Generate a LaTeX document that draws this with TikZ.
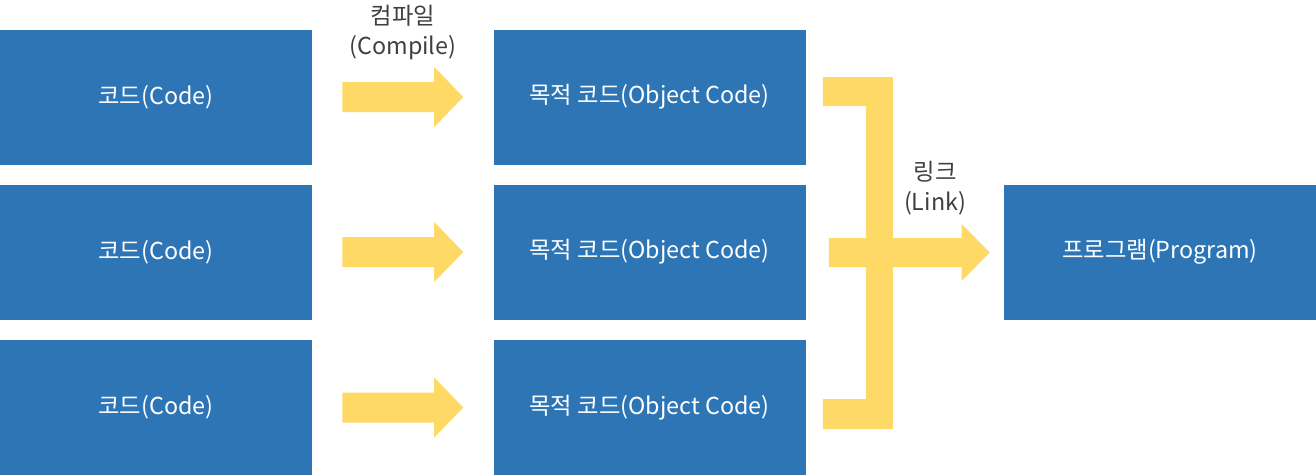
\documentclass[tikz,border=0pt]{standalone}
\usepackage{fontspec}
\setmainfont{Noto Sans CJK KR}
\usetikzlibrary{calc}
\definecolor{boxblue}{HTML}{2E75B6}
\definecolor{arrowyellow}{HTML}{FFD966}
\definecolor{labelgray}{HTML}{404040}
\tikzset{
    block/.style={fill=boxblue, minimum width=234pt, minimum height=101.25pt, inner sep=0pt, text=white, font=\fontsize{17.5}{21}\selectfont},
    fat/.style={fill=arrowyellow},
    tag/.style={align=center, text=labelgray, font=\fontsize{17.5}{22.5}\selectfont}
}

\begin{document}
\begin{tikzpicture}[x=0.75pt, y=-0.75pt]
\useasboundingbox (0,0) rectangle (1316,475);
% source and object code blocks
\node[block] (code1) at (156,97) {코드(Code)};
\node[block] (code2) at (156,252) {코드(Code)};
\node[block] (code3) at (156,407.5) {코드(Code)};
\node[block] (obj1) at (649.5,97) {목적 코드(Object Code)};
\node[block] (obj2) at (649.5,252) {목적 코드(Object Code)};
\node[block] (obj3) at (649.5,407.5) {목적 코드(Object Code)};
\node[block] (prog) at (1160,252) {프로그램(Program)};
% compile arrows
\foreach \i in {1,2,3} {
    \coordinate (s\i) at ($(code\i.east)+(30,0)$);
    \coordinate (t\i) at ($(obj\i.west)+(-30,0)$);
    \fill[fat] ($(s\i)+(0,-15)$) -- ($(t\i)+(-29,-15)$) -- ($(t\i)+(-29,-30)$) -- (t\i)
        -- ($(t\i)+(-29,30)$) -- ($(t\i)+(-29,15)$) -- ($(s\i)+(0,15)$) -- cycle;
}
% link bracket
\fill[fat] ($(obj1.east)+(17,-20)$) -- ($(obj1.east)+(87,-20)$) -- ($(obj3.east)+(87,21.5)$)
    -- ($(obj3.east)+(17,21.5)$) -- ($(obj3.east)+(17,-8.5)$) -- ($(obj3.east)+(60,-8.5)$)
    -- ($(obj1.east)+(60,9)$) -- ($(obj1.east)+(17,9)$) -- cycle;
\coordinate (l) at ($(obj2.east)+(23,0.5)$);
\coordinate (r) at ($(prog.west)+(-14,0.5)$);
\fill[fat] ($(l)+(0,-14.5)$) -- ($(r)+(-28,-14.5)$) -- ($(r)+(-28,-28.5)$) -- (r)
    -- ($(r)+(-28,28.5)$) -- ($(r)+(-28,14.5)$) -- ($(l)+(0,14.5)$) -- cycle;
% labels
\node[tag] (compile) at (403,33) {컴파일\\(Compile)};
\node[tag] (link) at (935,188) {링크\\(Link)};
\end{tikzpicture}
\end{document}
